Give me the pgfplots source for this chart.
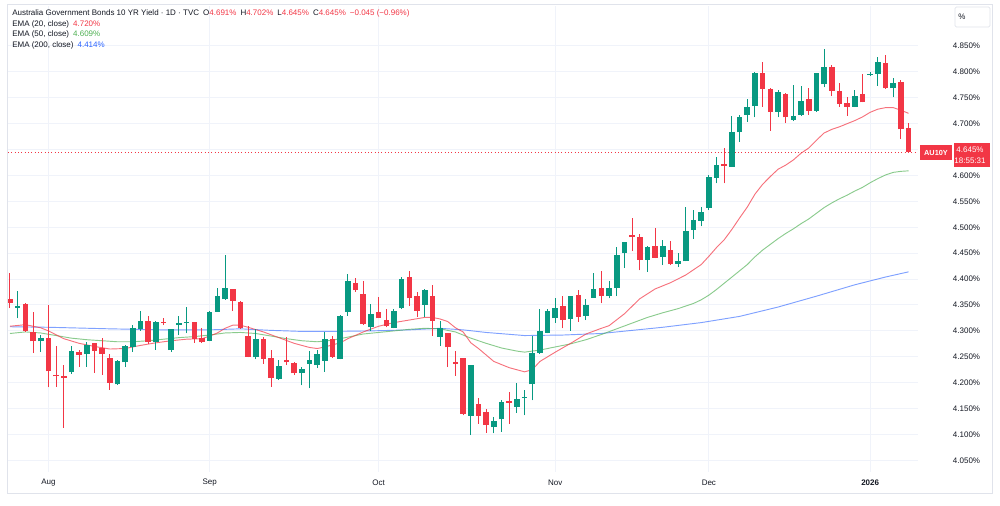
\documentclass[border=0pt]{standalone}
\usepackage{fontspec}
\setmainfont{Liberation Sans}
\usepackage{pgfplots}
\pgfplotsset{compat=1.18}
\usepackage{pgfplotstable}
\definecolor{up}{HTML}{089981}
\definecolor{dn}{HTML}{F23645}
\definecolor{emaA}{HTML}{F23645}
\definecolor{emaB}{HTML}{4CAF50}
\definecolor{emaC}{HTML}{2962FF}
\definecolor{txt}{HTML}{131722}
\definecolor{gridc}{HTML}{F0F3FA}
\definecolor{framec}{HTML}{E0E3EB}

\pgfplotstableread{
i o h l c
1 4.345 4.377 4.324 4.349
4 4.280 4.292 4.260 4.286
8 4.221 4.271 4.217 4.261
10 4.255 4.278 4.231 4.273
14 4.197 4.244 4.196 4.241
15 4.239 4.273 4.230 4.271
16 4.268 4.311 4.260 4.305
17 4.304 4.338 4.300 4.320
19 4.278 4.320 4.264 4.318
21 4.263 4.304 4.260 4.304
22 4.311 4.329 4.292 4.315
23 4.315 4.347 4.295 4.317
26 4.281 4.338 4.280 4.336
27 4.337 4.382 4.337 4.368
28 4.361 4.447 4.360 4.383
32 4.249 4.303 4.245 4.284
35 4.208 4.244 4.205 4.233
38 4.218 4.231 4.195 4.226
39 4.237 4.262 4.189 4.244
40 4.235 4.263 4.228 4.255
41 4.242 4.298 4.221 4.284
43 4.246 4.330 4.245 4.329
44 4.336 4.409 4.329 4.396
47 4.307 4.352 4.300 4.333
50 4.306 4.343 4.305 4.339
51 4.344 4.405 4.342 4.400
54 4.350 4.380 4.327 4.379
56 4.289 4.320 4.271 4.306
60 4.136 4.234 4.099 4.234
63 4.114 4.134 4.102 4.126
64 4.129 4.166 4.105 4.162
66 4.153 4.200 4.142 4.168
67 4.170 4.186 4.137 4.171
68 4.197 4.291 4.166 4.258
69 4.258 4.342 4.256 4.300
70 4.296 4.342 4.295 4.339
71 4.324 4.363 4.316 4.345
73 4.322 4.367 4.300 4.367
75 4.329 4.361 4.321 4.350
76 4.364 4.411 4.364 4.381
78 4.367 4.397 4.363 4.383
79 4.382 4.461 4.367 4.446
80 4.450 4.472 4.421 4.472
83 4.437 4.463 4.414 4.461
85 4.443 4.475 4.427 4.463
87 4.430 4.450 4.423 4.434
88 4.434 4.540 4.434 4.493
89 4.495 4.533 4.477 4.514
90 4.513 4.540 4.502 4.530
91 4.538 4.601 4.533 4.598
92 4.596 4.636 4.585 4.620
94 4.617 4.714 4.617 4.683
95 4.683 4.717 4.665 4.712
96 4.717 4.748 4.704 4.733
97 4.734 4.800 4.712 4.797
100 4.723 4.765 4.712 4.762
102 4.708 4.775 4.705 4.715
103 4.717 4.773 4.715 4.744
105 4.725 4.797 4.723 4.797
106 4.776 4.844 4.770 4.810
110 4.733 4.766 4.732 4.754
112 4.794 4.800 4.793 4.795
113 4.796 4.828 4.773 4.819
115 4.768 4.788 4.751 4.778
}\upc

\pgfplotstableread{
i o h l c
0 4.362 4.411 4.344 4.354
2 4.352 4.353 4.298 4.300
3 4.297 4.337 4.257 4.280
5 4.286 4.350 4.191 4.222
6 4.214 4.271 4.192 4.212
7 4.212 4.234 4.113 4.209
9 4.259 4.263 4.231 4.253
11 4.276 4.277 4.219 4.261
12 4.267 4.286 4.215 4.255
13 4.247 4.255 4.186 4.200
18 4.320 4.329 4.275 4.279
20 4.318 4.324 4.311 4.315
24 4.317 4.318 4.277 4.284
25 4.286 4.306 4.277 4.278
29 4.381 4.381 4.338 4.358
30 4.355 4.357 4.304 4.305
31 4.290 4.309 4.249 4.250
33 4.284 4.288 4.237 4.246
34 4.247 4.263 4.192 4.209
36 4.244 4.288 4.234 4.239
37 4.238 4.239 4.215 4.218
42 4.284 4.290 4.248 4.250
45 4.392 4.403 4.376 4.378
46 4.371 4.397 4.311 4.313
48 4.336 4.366 4.324 4.324
49 4.321 4.343 4.307 4.309
52 4.405 4.416 4.348 4.363
53 4.367 4.376 4.327 4.339
55 4.367 4.389 4.290 4.320
57 4.295 4.295 4.230 4.268
58 4.239 4.262 4.213 4.237
59 4.247 4.247 4.137 4.140
61 4.159 4.170 4.121 4.136
62 4.144 4.150 4.103 4.119
65 4.164 4.182 4.121 4.161
72 4.348 4.367 4.305 4.321
74 4.369 4.379 4.318 4.327
77 4.383 4.416 4.353 4.367
81 4.486 4.517 4.454 4.481
82 4.482 4.488 4.417 4.437
84 4.464 4.499 4.440 4.441
86 4.457 4.474 4.427 4.429
93 4.622 4.654 4.585 4.618
98 4.797 4.820 4.733 4.767
99 4.767 4.768 4.686 4.723
101 4.757 4.759 4.701 4.712
104 4.747 4.768 4.717 4.725
107 4.810 4.813 4.753 4.764
108 4.764 4.778 4.733 4.738
109 4.739 4.751 4.715 4.733
111 4.757 4.796 4.741 4.741
114 4.818 4.833 4.767 4.768
116 4.781 4.784 4.670 4.689
117 4.691 4.702 4.645 4.645
}\dnc

\pgfplotstableread{
i v
0 4.309
2 4.312
4 4.306
5 4.300
7 4.285
9 4.276
11 4.270
13 4.265
15 4.266
17 4.272
19 4.277
21 4.281
23 4.284
25 4.285
26 4.290
27 4.296
28 4.305
29 4.311
30 4.311
31 4.307
33 4.298
35 4.287
37 4.276
39 4.268
40 4.266
41 4.269
43 4.277
44 4.285
46 4.298
48 4.309
50 4.316
52 4.321
54 4.326
55 4.326
56 4.323
57 4.318
58 4.306
59 4.298
60 4.277
61 4.266
63 4.241
65 4.229
67 4.221
68 4.225
69 4.241
71 4.259
73 4.276
75 4.294
77 4.305
78 4.310
80 4.333
82 4.362
84 4.381
86 4.393
88 4.408
89 4.418
90 4.428
91 4.444
92 4.461
93 4.476
94 4.496
95 4.518
96 4.539
97 4.564
98 4.583
99 4.598
100 4.612
101 4.620
102 4.630
103 4.643
104 4.653
105 4.668
106 4.682
107 4.689
108 4.694
109 4.700
110 4.706
111 4.713
112 4.722
113 4.728
114 4.731
115 4.731
116 4.726
117 4.720
}\emaA

\pgfplotstableread{
i v
0 4.295
2 4.298
4 4.296
6 4.291
8 4.286
10 4.283
12 4.281
14 4.279
16 4.279
18 4.281
20 4.284
22 4.287
24 4.289
26 4.292
28 4.296
30 4.297
32 4.295
34 4.290
36 4.285
38 4.281
40 4.279
42 4.282
44 4.288
46 4.294
48 4.297
50 4.300
52 4.303
54 4.305
56 4.304
58 4.298
60 4.286
62 4.276
64 4.267
66 4.261
67 4.259
68 4.261
69 4.263
71 4.269
73 4.275
75 4.283
77 4.293
79 4.304
81 4.315
83 4.326
85 4.335
87 4.343
89 4.353
90 4.360
91 4.369
92 4.380
93 4.392
94 4.404
95 4.416
96 4.428
97 4.443
98 4.456
99 4.467
100 4.478
101 4.488
102 4.497
103 4.507
104 4.516
105 4.527
106 4.538
107 4.547
108 4.555
109 4.562
110 4.570
111 4.577
112 4.586
113 4.594
114 4.601
115 4.606
116 4.608
117 4.609
}\emaB

\pgfplotstableread{
i v
0 4.308
5 4.307
13 4.304
20 4.302
26 4.302
30 4.304
34 4.301
38 4.299
42 4.299
47 4.300
52 4.302
56 4.305
59 4.302
62 4.297
67 4.291
72 4.292
77 4.295
81 4.301
85 4.307
90 4.316
95 4.328
100 4.346
105 4.367
110 4.389
114 4.404
117 4.414
}\emaC

\begin{document}
\begin{tikzpicture}
\path[use as bounding box] (0,0) rectangle (750pt,-379.5pt);
\begin{axis}[
  at={(6pt,-354pt)}, anchor=south west,
  scale only axis, width=682.5pt, height=349.5pt,
  xmin=-0.26, xmax=118.23, ymin=4.0276, ymax=4.9272,
  axis line style={draw=none},
  major tick length=0pt,
  grid=major, grid style={draw=gridc, line width=0.75pt},
  xtick={5,26,48,71,91,112},
  xticklabels={Aug,Sep,Oct,Nov,Dec,\textbf{2026}},
  xticklabel style={anchor=center, yshift=-8.25pt, inner sep=0pt, text=txt, font=\fontsize{6}{7}\selectfont},
  ytick={4.05,4.10,4.15,4.20,4.25,4.30,4.35,4.40,4.45,4.50,4.55,4.60,4.70,4.75,4.80,4.85},
  extra y ticks={4.65}, extra y tick labels={},
  extra y tick style={grid=major, major tick length=0pt},
  yticklabel pos=right,
  /pgf/number format/assume math mode=true,
  yticklabel={\pgfmathprintnumber[fixed,fixed zerofill,precision=3]{\tick}\%},
  yticklabel style={anchor=west, xshift=26pt, inner sep=0pt, text=txt, font=\fontsize{6}{7}\selectfont},
  clip=true,
]
% EMA lines
\addplot[emaC, line width=0.7pt, opacity=0.6, mark=none, line join=round] table[x=i,y=v] {\emaC};
\addplot[emaB, line width=0.7pt, opacity=0.65, mark=none, line join=round] table[x=i,y=v] {\emaB};
\addplot[emaA, line width=0.7pt, opacity=0.7, mark=none, line join=round] table[x=i,y=v] {\emaA};
% last price line
\addplot[dn, line width=0.5pt, dotted, mark=none] coordinates {(-0.26,4.645) (118.23,4.645)};
% wicks
\addplot[draw=none, mark=none, mark size=0pt, error bars/.cd, y dir=plus, y explicit, error mark=none,
  error bar style={line width=0.75pt, draw=up, solid}]
  table[x=i, y=l, y error expr={\thisrow{h}-\thisrow{l}}] {\upc};
\addplot[draw=none, mark=none, mark size=0pt, error bars/.cd, y dir=plus, y explicit, error mark=none,
  error bar style={line width=0.75pt, draw=dn, solid}]
  table[x=i, y=l, y error expr={\thisrow{h}-\thisrow{l}}] {\dnc};
% bodies
\addplot[draw=none, mark=none, mark size=0pt, error bars/.cd, y dir=plus, y explicit, error mark=none,
  error bar style={line width=4.2pt, draw=up, solid}]
  table[x=i, y=o, y error expr={max(\thisrow{c}-\thisrow{o},0.0016)}] {\upc};
\addplot[draw=none, mark=none, mark size=0pt, error bars/.cd, y dir=plus, y explicit, error mark=none,
  error bar style={line width=4.2pt, draw=dn, solid}]
  table[x=i, y=c, y error expr={max(\thisrow{o}-\thisrow{c},0.0016)}] {\dnc};
\end{axis}
\begin{scope}[x=0.75pt,y=-0.75pt]
\draw[framec, line width=0.75pt] (7,5) rectangle (992,493);
\draw[framec, line width=0.6pt, fill=white, rounded corners=1pt] (955,7) rectangle (990,27);
\node[text=txt, font=\fontsize{6}{7}\selectfont, inner sep=0] at (962,16.5) {\%};
\fill[dn] (920,145) rectangle (952,160);
\node[text=white, font=\fontsize{5.5}{6}\selectfont\bfseries, inner sep=0] at (936,152.5) {AU10Y};
\fill[dn] (954,143) rectangle (990,167);
\node[text=white, font=\fontsize{6}{7}\selectfont, inner sep=0] at (970,149.5) {4.645\%};
\node[text=white, font=\fontsize{6}{7}\selectfont, inner sep=0] at (970,161) {18:55:31};
\node[anchor=base west, inner sep=0, text=txt, font=\fontsize{6}{7}\selectfont] at (12,15.5)
 {Australia Government Bonds 10 YR Yield · 1D · TVC\hspace{3pt}O\textcolor{dn}{4.691\%}\hspace{3pt}H\textcolor{dn}{4.702\%}\hspace{3pt}L\textcolor{dn}{4.645\%}\hspace{3pt}C\textcolor{dn}{4.645\%}\hspace{3pt}\textcolor{dn}{−0.045 (−0.96\%)}};
\node[anchor=base west, inner sep=0, text=txt, font=\fontsize{6}{7}\selectfont] at (12,26.5)
 {EMA (20, close)\hspace{3pt}\textcolor{emaA}{4.720\%}};
\node[anchor=base west, inner sep=0, text=txt, font=\fontsize{6}{7}\selectfont] at (12,37)
 {EMA (50, close)\hspace{3pt}\textcolor{emaB}{4.609\%}};
\node[anchor=base west, inner sep=0, text=txt, font=\fontsize{6}{7}\selectfont] at (12,47.5)
 {EMA (200, close)\hspace{3pt}\textcolor{emaC}{4.414\%}};
\end{scope}
\end{tikzpicture}
\end{document}
